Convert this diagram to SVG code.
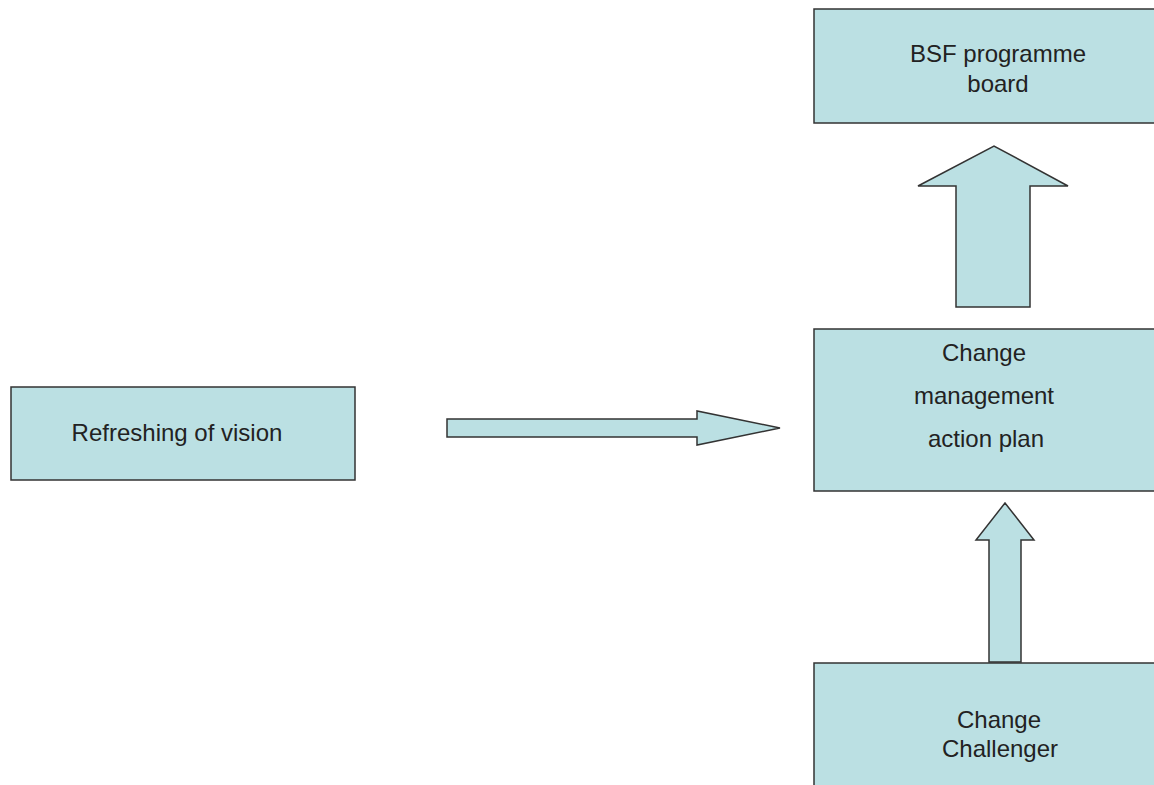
<svg xmlns="http://www.w3.org/2000/svg" width="1154" height="785" viewBox="0 0 1154 785">
<style>
.box{fill:#BBE0E3;stroke:#333;stroke-width:1.5}
.arr{fill:#BBE0E3;stroke:#333;stroke-width:1.5;stroke-linejoin:miter}
text{font-family:"Liberation Sans",Arial,sans-serif;font-size:24px;fill:#222;text-anchor:middle}
</style>
<rect width="1154" height="785" fill="#FFFFFF"/>
<g id="connectors">
<polygon class="arr" points="447,419 697,419 697,411 780,428 697,445 697,437 447,437"/>
<polygon class="arr" points="956,307 956,186 918,186 994,146 1068,186 1030,186 1030,307"/>
<polygon class="arr" points="989,662 989,540 976,540 1005,503 1034,540 1021,540 1021,662"/>
</g>
<g id="node-bsf">
<rect class="box" x="814" y="9" width="360" height="114"/>
<text x="998" y="62">BSF programme</text>
<text x="998" y="92">board</text>
</g>
<g id="node-refresh">
<rect class="box" x="11" y="387" width="344" height="93"/>
<text x="177" y="441">Refreshing of vision</text>
</g>
<g id="node-cmap">
<rect class="box" x="814" y="329" width="360" height="162"/>
<text x="984" y="361">Change</text>
<text x="984" y="404">management</text>
<text x="986" y="447">action plan</text>
</g>
<g id="node-challenger">
<rect class="box" x="814" y="663" width="360" height="140"/>
<text x="999" y="728">Change</text>
<text x="1000" y="757">Challenger</text>
</g>
</svg>
